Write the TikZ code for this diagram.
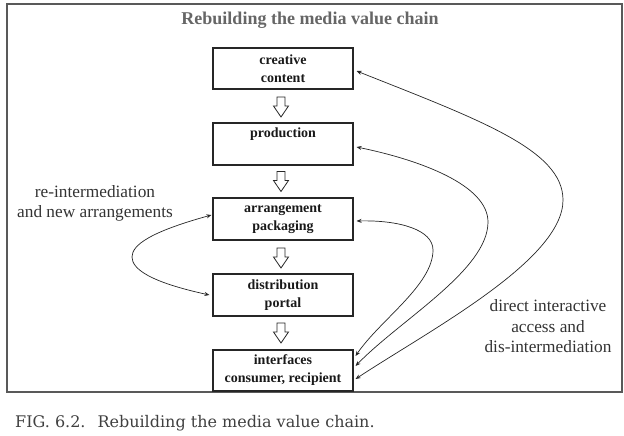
\documentclass[tikz,border=0pt]{standalone}
\usepackage{fontspec}
\setmainfont{Liberation Serif}
\newfontfamily\capfont{DejaVu Serif}
\usetikzlibrary{arrows.meta,calc}
\begin{document}
\begin{tikzpicture}[x=1pt,y=-1pt,
  chainbox/.style={draw=black!85, line width=1.1pt, minimum width=140pt, inner sep=0pt, align=center, font=\fontsize{14}{18}\selectfont\bfseries, text=black!90},
  link/.style={draw=black!85, line width=0.7pt, {Stealth[length=5pt,width=4pt]}-{Stealth[length=5pt,width=4pt]}},
  sidelabel/.style={align=center, font=\fontsize{17.3}{20.5}\selectfont, text=black!80},
  hollow/.pic={\draw[draw=black!85, line width=0.8pt, fill=white, line join=miter] (-4,-10) -- (4,-10) -- (4,-1) -- (7.5,-1) -- (0,10) -- (-7.5,-1) -- (-4,-1) -- cycle;}
]
\useasboundingbox (0,0) rectangle (624,436);
\node[draw=black!65, line width=1.4pt, minimum width=615pt, minimum height=388pt, inner sep=0pt] (frame) at (314.5,198) {};
\node[font=\fontsize{18}{20}\selectfont\bfseries, text=black!60] (title) at (310,20) {Rebuilding the media value chain};

\node[chainbox, minimum height=41pt] (cc) at (283,68.5) {creative\\content};
\node[chainbox, minimum height=42pt] (pr) at (283,144) {production\\\strut};
\node[chainbox, minimum height=42pt] (ar) at (283,219) {arrangement\\packaging};
\node[chainbox, minimum height=42pt] (di) at (283,295) {distribution\\portal};
\node[chainbox, minimum height=41pt] (ifc) at (283,370.5) {interfaces\\consumer, recipient};

\coordinate (h1) at ($(cc.south)!0.5!(pr.north)+(-2,1)$);
\coordinate (h2) at ($(pr.south)!0.5!(ar.north)+(-2,0)$);
\coordinate (h3) at ($(ar.south)!0.5!(di.north)+(-2,1)$);
\coordinate (h4) at ($(di.south)!0.5!(ifc.north)+(-2,0)$);
\pic at (h1) {hollow};
\pic at (h2) {hollow};
\pic at (h3) {hollow};
\pic at (h4) {hollow};

\node[sidelabel] (left) at (95,203.5) {re-intermediation\\and new arrangements};
\node[sidelabel] (right) at (548,326.5) {direct interactive\\access and\\dis-intermediation};

\draw[link] ($(ar.west)+(-1,-4)$) .. controls (150,232) and (132,245) .. (132,257)
  .. controls (132,269) and (150,282) .. ($(di.west)+(-3,0)$);

\draw[link] ($(ar.east)+(3,2)$) .. controls (400,220) and (433,230) .. (433,250)
  .. controls (433,285) and (380,320) .. ($(ifc.east)+(2,-14.5)$);
\draw[link] ($(pr.east)+(3,3)$) .. controls (420,160) and (488,185) .. (488,222)
  .. controls (488,270) and (400,320) .. ($(ifc.east)+(2,-4.5)$);
\draw[link] ($(cc.east)+(3,2.5)$) .. controls (480,120) and (563,150) .. (563,200)
  .. controls (563,260) and (430,330) .. ($(ifc.east)+(2,8.5)$);

\node[anchor=base west, inner sep=0pt, font=\capfont\fontsize{16}{18}\selectfont, text=black!75] (cap) at (15,427) {FIG. 6.2.\hspace{12pt}Rebuilding the media value chain.};
\end{tikzpicture}
\end{document}
